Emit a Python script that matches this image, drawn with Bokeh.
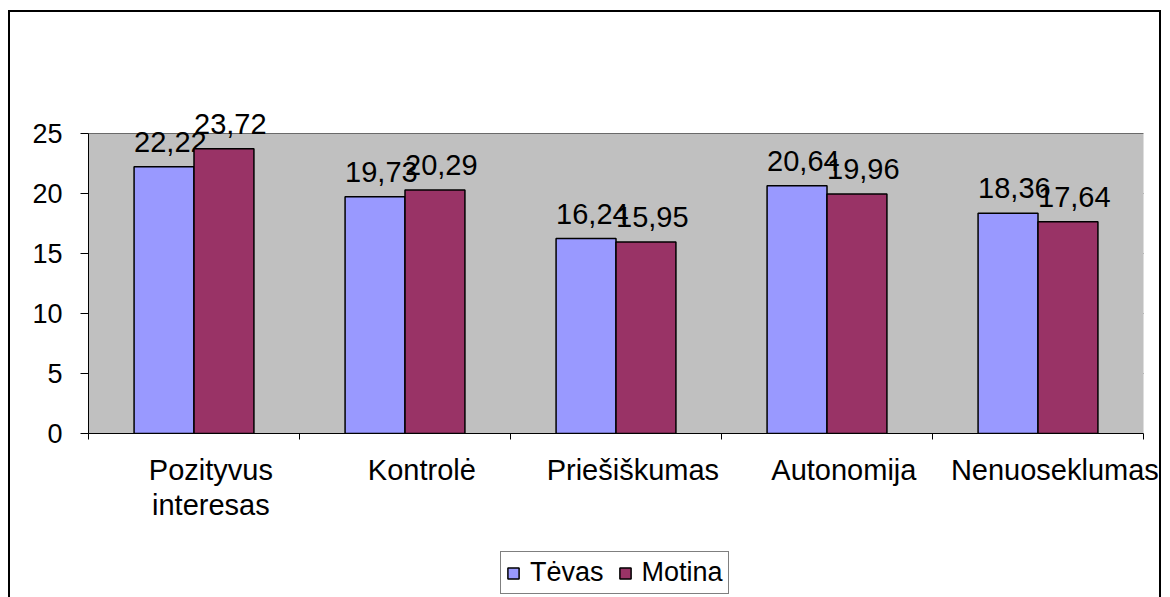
from bokeh.plotting import figure
from bokeh.layouts import column
from bokeh.models import Range1d, FixedTicker, ColumnDataSource, Legend, LegendItem, BoxAnnotation
from bokeh.core.properties import value
from bokeh.embed import file_html
from bokeh.resources import INLINE

categories = ["Pozityvus\ninteresas", "Kontrolė", "Priešiškumas", "Autonomija", "Nenuoseklumas"]
series_names = ["Tėvas", "Motina"]
tevas = [22.22, 19.73, 16.24, 20.64, 18.36]
motina = [23.72, 20.29, 15.95, 19.96, 17.64]
tevas_labels = ["22,22", "19,73", "16,24", "20,64", "18,36"]
motina_labels = ["23,72", "20,29", "15,95", "19,96", "17,64"]
y_ticks = [0, 5, 10, 15, 20, 25]
y_max = 25
colors = ["#9999FF", "#993366"]

FONT = "Liberation Sans"
BW = 0.284
W = 1149

idx = list(range(len(categories)))
centers = [i + 0.5 for i in idx]
t_x = [c - BW / 2 for c in centers]
m_x = [c + BW / 2 for c in centers]

src_t = ColumnDataSource(dict(x=t_x, top=tevas, lx=[x - BW / 2 for x in t_x], lab=tevas_labels))
src_m = ColumnDataSource(dict(x=m_x, top=motina, lx=[x - BW / 2 for x in m_x], lab=motina_labels))
sources = [src_t, src_m]

p = figure(width=W, height=528, output_backend="svg", toolbar_location=None,
           x_range=Range1d(0, len(categories)), y_range=Range1d(0, 27.5),
           min_border_left=78, min_border_top=91, min_border_right=16, min_border_bottom=107)
p.margin = 0
p.background_fill_color = "white"
p.border_fill_color = "white"
p.outline_line_color = None

p.add_layout(BoxAnnotation(left=0, right=len(categories), bottom=0, top=y_max,
                           fill_color="#C0C0C0", fill_alpha=1,
                           line_color="#808080", line_width=1, level="underlay"))

p.xgrid.visible = False
p.ygrid.ticker = FixedTicker(ticks=y_ticks)
p.ygrid.grid_line_color = "black"
p.ygrid.grid_line_width = 1
p.ygrid.level = "underlay"

for s, c in zip(sources, colors):
    p.vbar(x="x", top="top", width=BW, bottom=0, source=s,
           fill_color=c, line_color="black", line_width=1.5)
    p.text(x="lx", y="top", text="lab", source=s, text_font=value(FONT),
           text_font_size="29px", text_color="black", text_align="left",
           text_baseline="alphabetic", y_offset=-25)

ya = p.yaxis[0]
ya.ticker = FixedTicker(ticks=y_ticks)
ya.bounds = (0, y_max)
ya.axis_line_color = "black"
ya.major_tick_out = 8
ya.major_tick_in = 0
ya.minor_tick_line_color = None
ya.major_label_standoff = 18
ya.major_label_text_font = FONT
ya.major_label_text_font_size = "27px"
ya.major_label_text_color = "black"

label_ticks = [c + 0.08 for c in centers]
xa = p.xaxis[0]
xa.ticker = FixedTicker(ticks=label_ticks, minor_ticks=[float(i) for i in range(len(categories) + 1)])
xa.major_label_overrides = {t: lab for t, lab in zip(label_ticks, categories)}
xa.axis_line_color = "black"
xa.major_tick_line_color = None
xa.major_tick_out = 0
xa.major_tick_in = 0
xa.minor_tick_line_color = "black"
xa.minor_tick_out = 6
xa.minor_tick_in = 0
xa.major_label_standoff = 14
xa.major_label_text_font = FONT
xa.major_label_text_font_size = "29px"
xa.major_label_text_line_height = 1.1
xa.major_label_text_color = "black"

# legend strip: hidden renderers that only feed the legend
p2 = figure(width=W, height=57, output_backend="svg", toolbar_location=None,
            x_axis_location=None, y_axis_location=None,
            x_range=Range1d(0, len(categories)), y_range=Range1d(0, 27.5),
            min_border_left=0, min_border_right=0, min_border_top=0, min_border_bottom=0)
p2.margin = 0
p2.outline_line_color = None
p2.grid.visible = False
r2 = []
for s, c in zip(sources, colors):
    r = p2.vbar(x="x", top="top", width=BW, bottom=0, source=s,
                fill_color=c, line_color="black", line_width=1.5)
    r.visible = False
    r2.append(r)
legend = Legend(items=[LegendItem(label=n, renderers=[r]) for n, r in zip(series_names, r2)],
                orientation="horizontal", location=(412, 3), click_policy="none")
legend.glyph_width = 14
legend.glyph_height = 14
legend.label_text_font = FONT
legend.label_text_font_size = "27px"
legend.label_text_color = "black"
legend.label_standoff = 10
legend.spacing = 14
legend.padding = 5
legend.margin = 0
legend.border_line_color = "black"
legend.border_line_width = 1
legend.background_fill_color = "white"
legend.background_fill_alpha = 1
p2.add_layout(legend, "center")

layout = column(p, p2, spacing=0)
layout.margin = (10, 0, 0, 8)
layout.styles = {"border-top": "2px solid black", "border-left": "2px solid black",
                 "border-right": "2px solid black"}

open("out.html", "w").write(file_html(layout, INLINE))
